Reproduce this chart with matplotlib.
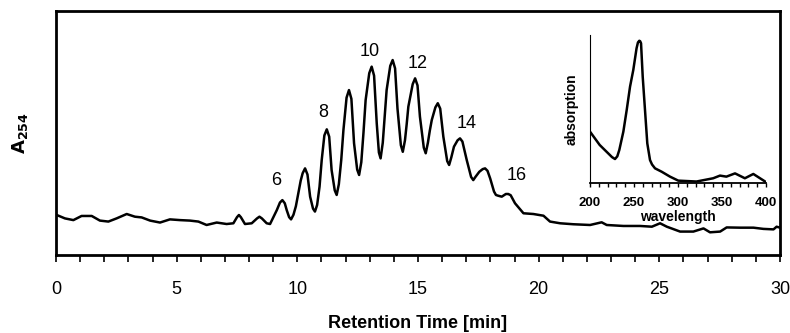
import matplotlib
matplotlib.use("Agg")
import matplotlib.pyplot as plt
from matplotlib.ticker import MultipleLocator

plt.rcParams['font.family'] = ['Liberation Sans', 'DejaVu Sans']

# Chromatogram (retention time [min], A254 arbitrary units)
time_min = [0.03, 0.37, 0.72, 1.06, 1.48, 1.82, 2.17, 2.51, 2.93, 3.27, 3.55, 3.90,
            4.31, 4.72, 5.14, 5.55, 5.90, 6.24, 6.66, 7.07, 7.35, 7.50, 7.58, 7.66, 7.83,
            8.11, 8.33, 8.43, 8.53, 8.73, 8.87, 9.15, 9.28, 9.38, 9.48, 9.56, 9.66, 9.74, 9.84,
            9.94, 10.04, 10.14, 10.22, 10.32, 10.42, 10.53, 10.65, 10.73, 10.82,
            10.92, 11.01, 11.12, 11.22, 11.32, 11.42, 11.55, 11.63, 11.72,
            11.82, 11.91, 12.04, 12.14, 12.24, 12.35, 12.48, 12.56, 12.65,
            12.74, 12.83, 12.98, 13.08, 13.18, 13.29, 13.38, 13.45, 13.54,
            13.62, 13.70, 13.85, 13.95, 14.05, 14.15, 14.29, 14.37, 14.46,
            14.53, 14.60, 14.78, 14.88, 14.98, 15.08, 15.24, 15.32, 15.41,
            15.49, 15.57, 15.72, 15.82, 15.92, 16.05, 16.21, 16.29, 16.38,
            16.49, 16.64, 16.74, 16.84, 17.02, 17.20, 17.29, 17.38,
            17.54, 17.68, 17.78, 17.88, 17.99, 18.15, 18.23, 18.32,
            18.47, 18.64, 18.74, 18.84, 19.02, 19.37,
            19.78, 20.20, 20.47, 20.89, 21.44, 22.13, 22.61, 22.82,
            23.51, 24.20, 24.69, 25.03, 25.31, 25.86, 26.41, 26.83,
            27.10, 27.52, 27.79, 28.35, 28.90, 29.31, 29.73, 29.86, 30.0]
absorbance = [0.164, 0.150, 0.143, 0.160, 0.160, 0.141, 0.137, 0.150, 0.168, 0.157, 0.154, 0.141,
              0.133, 0.146, 0.143, 0.141, 0.137, 0.123, 0.133, 0.127, 0.130, 0.155, 0.164, 0.155, 0.127,
              0.130, 0.150, 0.157, 0.150, 0.130, 0.127, 0.184, 0.215, 0.225, 0.212, 0.184, 0.155, 0.146, 0.165,
              0.200, 0.253, 0.305, 0.335, 0.355, 0.330, 0.239, 0.190, 0.178, 0.205,
              0.280, 0.389, 0.490, 0.515, 0.485, 0.348, 0.265, 0.246, 0.290,
              0.390, 0.512, 0.645, 0.676, 0.640, 0.458, 0.350, 0.328, 0.380,
              0.500, 0.635, 0.745, 0.772, 0.735, 0.540, 0.420, 0.396, 0.460,
              0.570, 0.676, 0.775, 0.799, 0.765, 0.600, 0.450, 0.423, 0.470,
              0.535, 0.608, 0.700, 0.724, 0.695, 0.567, 0.440, 0.417, 0.460,
              0.510, 0.553, 0.605, 0.622, 0.600, 0.485, 0.385, 0.369, 0.400,
              0.444, 0.470, 0.478, 0.465, 0.389, 0.320, 0.307, 0.320,
              0.341, 0.352, 0.355, 0.345, 0.314, 0.260, 0.246, 0.243,
              0.239, 0.250, 0.250, 0.245, 0.212, 0.171,
              0.168, 0.161, 0.137, 0.130, 0.126, 0.123, 0.134, 0.123,
              0.119, 0.119, 0.116, 0.130, 0.116, 0.096, 0.096, 0.109,
              0.093, 0.096, 0.113, 0.112, 0.112, 0.107, 0.105, 0.116, 0.112]

# Peak annotations (oligomer numbers)
peak_labels = ["6", "8", "10", "12", "14", "16"]
peak_label_x = [9.12, 11.07, 13.01, 15.0, 17.03, 19.1]
peak_label_y = [0.307, 0.586, 0.836, 0.783, 0.537, 0.324]

# Inset UV spectrum
wavelength = [200, 211, 225, 228.4, 231, 233.3, 237.9, 241.7, 245.5, 249.2, 252.9, 254.5,
              256, 257, 258, 259.9, 262.5, 265.1, 268.2, 270.5, 273.9, 281.5, 290.9, 300.3,
              321, 340, 347.7, 355, 364.8, 376, 385.6, 399]
absorption = [0.347, 0.257, 0.175, 0.162, 0.180, 0.223, 0.347, 0.493, 0.651, 0.764, 0.910, 0.950,
              0.961, 0.958, 0.944, 0.718, 0.493, 0.268, 0.155, 0.125, 0.099, 0.076, 0.043, 0.016,
              0.010, 0.032, 0.050, 0.043, 0.065, 0.032, 0.061, 0.010]

W, H = 790, 333
fig = plt.figure(figsize=(W / 100, H / 100), dpi=100)

ax = fig.add_axes([56 / W, 1 - 255 / H, (780 - 56) / W, (255 - 11) / H])
ax.plot(time_min, absorbance, color='black', lw=1.8, solid_joinstyle='round',
        solid_capstyle='round')
ax.set_xlim(0, 30)
ax.set_ylim(0, 1)
ax.set_yticks([])
ax.xaxis.set_major_locator(MultipleLocator(5))
ax.xaxis.set_minor_locator(MultipleLocator(1))
ax.tick_params(axis='x', which='both', direction='out', length=5, width=1.2,
               labelsize=13, pad=14)
for s in ax.spines.values():
    s.set_linewidth(2)
ax.set_xlabel('Retention Time [min]', fontsize=13, fontweight='bold', labelpad=12)
ax.set_ylabel(r'$\mathbf{A_{254}}$', fontsize=13, labelpad=19)

for lab, x, y in zip(peak_labels, peak_label_x, peak_label_y):
    ax.text(x, y, lab, fontsize=13, ha='center', va='center')

# inset
ix0, ix1, iy0, iy1 = 590, 766, 183, 35
ins = fig.add_axes([ix0 / W, 1 - iy0 / H, (ix1 - ix0) / W, (iy0 - iy1) / H])
ins.plot(wavelength, absorption, color='black', lw=1.8, solid_joinstyle='round',
         solid_capstyle='round')
ins.set_xlim(200, 400)
ins.set_ylim(0, 1)
ins.set_yticks([])
ins.set_xticks([200, 250, 300, 350, 400])
ins.xaxis.set_minor_locator(MultipleLocator(10))
ins.tick_params(axis='x', which='both', direction='out', length=3, width=1,
                labelsize=9.5, pad=7)
for lbl in ins.get_xticklabels():
    lbl.set_fontweight('bold')
ins.spines['top'].set_visible(False)
ins.spines['right'].set_visible(False)
ins.spines['left'].set_linewidth(0.8)
ins.spines['bottom'].set_linewidth(1.3)
ins.patch.set_alpha(0)
ins.set_xlabel('wavelength', fontsize=10, fontweight='bold', labelpad=1)
ins.set_ylabel('absorption', fontsize=10, fontweight='bold', labelpad=8)

fig.savefig('out.png', dpi=100)
